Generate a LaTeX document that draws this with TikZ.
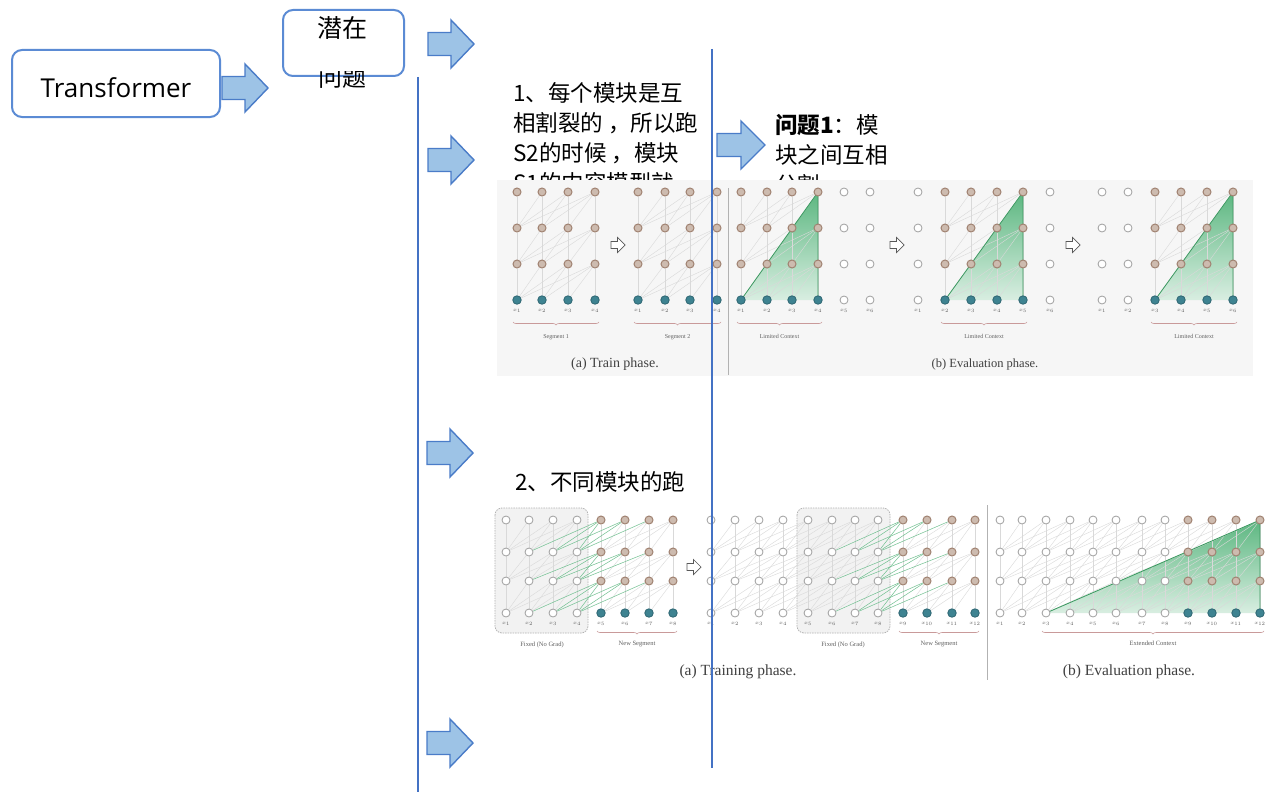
\documentclass[tikz,border=0pt]{standalone}
\usepackage{fontspec}
\setmainfont{Noto Sans CJK SC}
\newfontfamily\osans{Open Sans}
\newfontfamily\fserif{Liberation Serif}
\usetikzlibrary{decorations.pathreplacing}
\pgfdeclarelayer{back}
\pgfdeclarelayer{bg}
\pgfsetlayers{back,bg,main}
\definecolor{lineblue}{HTML}{4472C4}
\definecolor{boxblue}{HTML}{5B8BD4}
\definecolor{arrfill}{HTML}{9DC3E6}
\definecolor{arrdraw}{HTML}{4A7CC8}
\definecolor{brownring}{HTML}{A08271}
\definecolor{brownfill}{HTML}{CDBBAF}
\definecolor{tealfill}{HTML}{3E8391}
\definecolor{tealring}{HTML}{2E6672}
\definecolor{figbg}{HTML}{F6F6F6}
\definecolor{tgreen}{HTML}{3FAA6A}
\definecolor{bracec}{HTML}{C99A9A}
\tikzset{
 mmbox/.style={draw=boxblue, line width=2pt, rounded corners=10pt, fill=white, inner sep=0pt},
 vline/.style={draw=lineblue, line width=1.5pt},
 barr/.style={fill=arrfill, draw=arrdraw, line width=1.4pt, line join=miter},
 ctext/.style={font=\fontsize{22.5}{30}\selectfont, anchor=base west, inner sep=0pt, text=black},
 gn/.style={circle, draw=gray!75, fill=white, line width=0.8pt, minimum size=8pt, inner sep=0pt},
 bn/.style={circle, draw=brownring, fill=brownfill, line width=1pt, minimum size=8pt, inner sep=0pt},
 tn/.style={circle, draw=tealring, fill=tealfill, line width=0.8pt, minimum size=8.5pt, inner sep=0pt},
 edge/.style={draw=gray!30, line width=0.4pt},
 gedge/.style={draw=tgreen!75, line width=0.5pt},
 brc/.style={draw=bracec, line width=0.6pt, decorate, decoration={brace, mirror, amplitude=3pt}},
 slbl/.style={font=\fserif\fontsize{6}{7}\selectfont, text=gray!75!black, inner sep=0pt},
 xl/.style={font=\fontsize{4}{4}\selectfont, text=gray!75!black, inner sep=0pt},
 figcap/.style={font=\fserif\fontsize{14}{16}\selectfont, text=black!75, inner sep=0pt},
 sep/.style={draw=gray!60, line width=1pt},
 fixbox/.style={draw=gray!60, fill=gray!10, dash pattern=on 1.5pt off 1pt, line width=0.8pt, rounded corners=7pt},
 tri/.style={top color=tgreen!85, bottom color=tgreen!20},
 triedge/.style={draw=tgreen!90!black, line width=0.8pt},
}
\newcommand{\blockarrow}[4]{%
 \coordinate (#1) at (#2,#3);
 \filldraw[barr] (#2,#3-11.5) -- (#2+#4*0.5,#3-11.5) -- (#2+#4*0.5,#3-24) -- (#2+#4,#3) -- (#2+#4*0.5,#3+24) -- (#2+#4*0.5,#3+11.5) -- (#2,#3+11.5) -- cycle;
}
\newcommand{\hollowarrow}[3]{%
 \coordinate (#1) at (#2,#3);
 \filldraw[draw=gray!70!black, fill=white, line width=0.7pt, line join=miter] (#2-7,#3-3.5) -- (#2-0.5,#3-3.5) -- (#2-0.5,#3-7.5) -- (#2+7,#3) -- (#2-0.5,#3+7.5) -- (#2-0.5,#3+3.5) -- (#2-7,#3+3.5) -- cycle;
}
% grid group: name, x-list, y-list (4 rows top->bottom), first coloured col, last coloured col
\newcommand{\grp}[5]{%
 \foreach \x [count=\i] in {#2}{%
   \foreach \y [count=\r] in {#3}{%
     \def\col{0}%
     \ifnum\i<#4\relax\else\ifnum\i>#5\relax\else\ifnum\r=4\relax\def\col{2}\else\def\col{1}\fi\fi\fi
     \ifcase\col\relax \node[gn] (#1-\i-\r) at (\x,\y) {};%
     \or \node[bn] (#1-\i-\r) at (\x,\y) {};%
     \or \node[tn] (#1-\i-\r) at (\x,\y) {};%
     \fi
   }%
   \node[xl, yshift=-11pt] (#1-x-\i) at (#1-\i-4.center) {$x_{\i}$};%
 }%
}
% edges: name, from col, to col, minimum target col, green if target col <= this
\newcommand{\grpedges}[5]{%
 \foreach \i in {#2,...,#3}{%
  \foreach \r in {1,2,3}{%
   \pgfmathtruncatemacro\rr{\r+1}%
   \foreach \k in {0,1,2,3}{%
     \pgfmathtruncatemacro\jj{\i-\k}%
     \ifnum\jj<#4\relax\else
       \ifnum\jj>#5\relax \draw[edge] (#1-\i-\r) -- (#1-\jj-\rr);%
       \else \draw[gedge] (#1-\i-\r) -- (#1-\jj-\rr);\fi
     \fi
   }}}%
}
\begin{document}
\begin{tikzpicture}[x=1pt,y=-1pt]
\useasboundingbox (0,0) rectangle (1269,792);
\begin{pgfonlayer}{back}
 \fill[white] (0,0) rectangle (1269,792);
 \node[ctext] (t1a) at (513,101.5) {1、每个模块是互};
 \node[ctext] (t1b) at (513,131.5) {相割裂的 ，所以跑};
 \node[ctext] (t1c) at (513,161.5) {S2的时候 ，模块};
 \node[ctext] (t1d) at (513,191.5) {S1的内容模型就};
 \node[ctext] (q1a) at (775,133.5) {\textbf{问题1}：模};
 \node[ctext] (q1b) at (775,163.5) {块之间互相};
 \node[ctext] (q1c) at (775,193.5) {分割};
 \node[ctext] (t2) at (515,490.5) {2、不同模块的跑};
 \fill[figbg] (497,180) rectangle (1253,376);
 \draw[sep] (728,188) -- (728,375);
 \draw[sep] (987,505) -- (987,680);
 \draw[fixbox] (495,508) rectangle (588,633);
 \draw[fixbox] (797,508) rectangle (890,633);
\end{pgfonlayer}

% ---------- figure 1 ----------
\grp{A}{517,542,568,595}{192,228,264,300}{1}{4}
\grp{B}{638,665,690,717}{192,228,264,300}{1}{4}
\grp{C}{741,767,792,818,844,870}{192,228,264,300}{1}{4}
\grp{D}{918,945,971,997,1023,1050}{192,228,264,300}{2}{5}
\grp{E}{1102,1128,1155,1181,1207,1233}{192,228,264,300}{3}{6}
\hollowarrow{ha1}{618}{245}
\hollowarrow{ha2}{897}{245}
\hollowarrow{ha3}{1073}{245}
\draw[brc] ([xshift=-4pt,yshift=-22pt]A-1-4.center) -- node[slbl, below=12pt] (A-lab) {Segment 1} ([xshift=4pt,yshift=-22pt]A-4-4.center);
\draw[brc] ([xshift=-4pt,yshift=-22pt]B-1-4.center) -- node[slbl, below=12pt] (B-lab) {Segment 2} ([xshift=4pt,yshift=-22pt]B-4-4.center);
\draw[brc] ([xshift=-4pt,yshift=-22pt]C-1-4.center) -- node[slbl, below=12pt] (C-lab) {Limited Context} ([xshift=4pt,yshift=-22pt]C-4-4.center);
\draw[brc] ([xshift=-4pt,yshift=-22pt]D-2-4.center) -- node[slbl, below=12pt] (D-lab) {Limited Context} ([xshift=4pt,yshift=-22pt]D-5-4.center);
\draw[brc] ([xshift=-4pt,yshift=-22pt]E-3-4.center) -- node[slbl, below=12pt] (E-lab) {Limited Context} ([xshift=4pt,yshift=-22pt]E-6-4.center);
\node[figcap] (cap1a) at (615,364) {(a) Train phase.};
\node[figcap, font=\fserif\fontsize{12.5}{14}\selectfont] (cap1b) at (985,364) {(b) Evaluation phase.};

% ---------- figure 2 ----------
\grp{F}{506,529,553,577,601,625,649,673}{520,552,581,613}{5}{8}
\grp{G}{711,735,759,783,808,832,855,878,903,927,952,975}{520,552,581,613}{9}{12}
\grp{H}{1000,1022,1046,1070,1093,1116,1142,1165,1188,1212,1236,1260}{520,552,581,613}{9}{12}
\hollowarrow{ha4}{694}{567}
\node[slbl, font=\fserif\fontsize{6.5}{7}\selectfont] (fx1) at (542,645) {Fixed (No Grad)};
\node[slbl, font=\fserif\fontsize{6.5}{7}\selectfont] (fx2) at (843,645) {Fixed (No Grad)};
\draw[brc] ([xshift=-4pt,yshift=-18pt]F-5-4.center) -- node[slbl, font=\fserif\fontsize{6.5}{7}\selectfont, below=10pt] (F-lab) {New Segment} ([xshift=4pt,yshift=-18pt]F-8-4.center);
\draw[brc] ([xshift=-4pt,yshift=-18pt]G-9-4.center) -- node[slbl, font=\fserif\fontsize{6.5}{7}\selectfont, below=10pt] (G-lab) {New Segment} ([xshift=4pt,yshift=-18pt]G-12-4.center);
\draw[brc] ([xshift=-4pt,yshift=-18pt]H-3-4.center) -- node[slbl, font=\fserif\fontsize{6.5}{7}\selectfont, below=10pt] (H-lab) {Extended Context} ([xshift=4pt,yshift=-18pt]H-12-4.center);
\node[figcap, font=\fserif\fontsize{15.5}{17}\selectfont] (cap2a) at (738,672) {(a) Training phase.};
\node[figcap, font=\fserif\fontsize{15.5}{17}\selectfont] (cap2b) at (1129,672) {(b) Evaluation phase.};

\begin{pgfonlayer}{bg}
 \shade[tri] (C-1-4.center) -- (C-4-1.center) -- (C-4-4.center) -- cycle;
 \shade[tri] (D-2-4.center) -- (D-5-1.center) -- (D-5-4.center) -- cycle;
 \shade[tri] (E-3-4.center) -- (E-6-1.center) -- (E-6-4.center) -- cycle;
 \shade[tri] (H-3-4.center) -- (H-12-1.center) -- (H-12-4.center) -- cycle;
 \grpedges{A}{1}{4}{1}{0}
 \grpedges{B}{1}{4}{1}{0}
 \grpedges{C}{1}{4}{1}{0}
 \grpedges{D}{2}{5}{2}{0}
 \grpedges{E}{3}{6}{3}{0}
 \grpedges{F}{1}{4}{1}{0}
 \grpedges{F}{5}{8}{1}{4}
 \grpedges{G}{1}{8}{1}{0}
 \grpedges{G}{9}{12}{5}{8}
 \grpedges{H}{1}{12}{1}{0}
 \draw[triedge] (C-1-4.center) -- (C-4-1.center) -- (C-4-4.center);
 \draw[triedge] (D-2-4.center) -- (D-5-1.center) -- (D-5-4.center);
 \draw[triedge] (E-3-4.center) -- (E-6-1.center) -- (E-6-4.center);
 \draw[triedge] (H-3-4.center) -- (H-12-1.center) -- (H-12-4.center);
\end{pgfonlayer}

% ---------- mind map ----------
\node[mmbox, minimum width=208pt, minimum height=67pt] (tfbox) at (116,83.5) {};
\node[font=\osans\fontsize{26}{30}\selectfont, anchor=base, inner sep=0pt] (tft) at (116,97.5) {Transformer};
\node[mmbox, minimum width=121pt, minimum height=66pt] (qzbox) at (343.5,43) {};
\node[font=\fontsize{25}{30}\selectfont, anchor=base, inner sep=0pt] (qz) at (342,38) {潜在};
\begin{scope}
 \clip (280,72) rectangle (410,100);
 \node[font=\fontsize{24}{30}\selectfont, anchor=base, inner sep=0pt] (wt) at (342,86) {问题};
\end{scope}
\blockarrow{a1}{222}{88}{46}
\blockarrow{a2}{428}{44}{46}
\blockarrow{a3}{428}{160}{46}
\blockarrow{a4}{427}{453}{46}
\blockarrow{a5}{427}{743}{46}
\blockarrow{a6}{717}{145}{48}
\coordinate (l1t) at (418,77);
\coordinate (l1b) at (418,792);
\coordinate (l2t) at (712,49);
\coordinate (l2b) at (712,768);
\draw[vline] (l1t) -- (l1b);
\draw[vline] (l2t) -- (l2b);
\end{tikzpicture}
\end{document}
